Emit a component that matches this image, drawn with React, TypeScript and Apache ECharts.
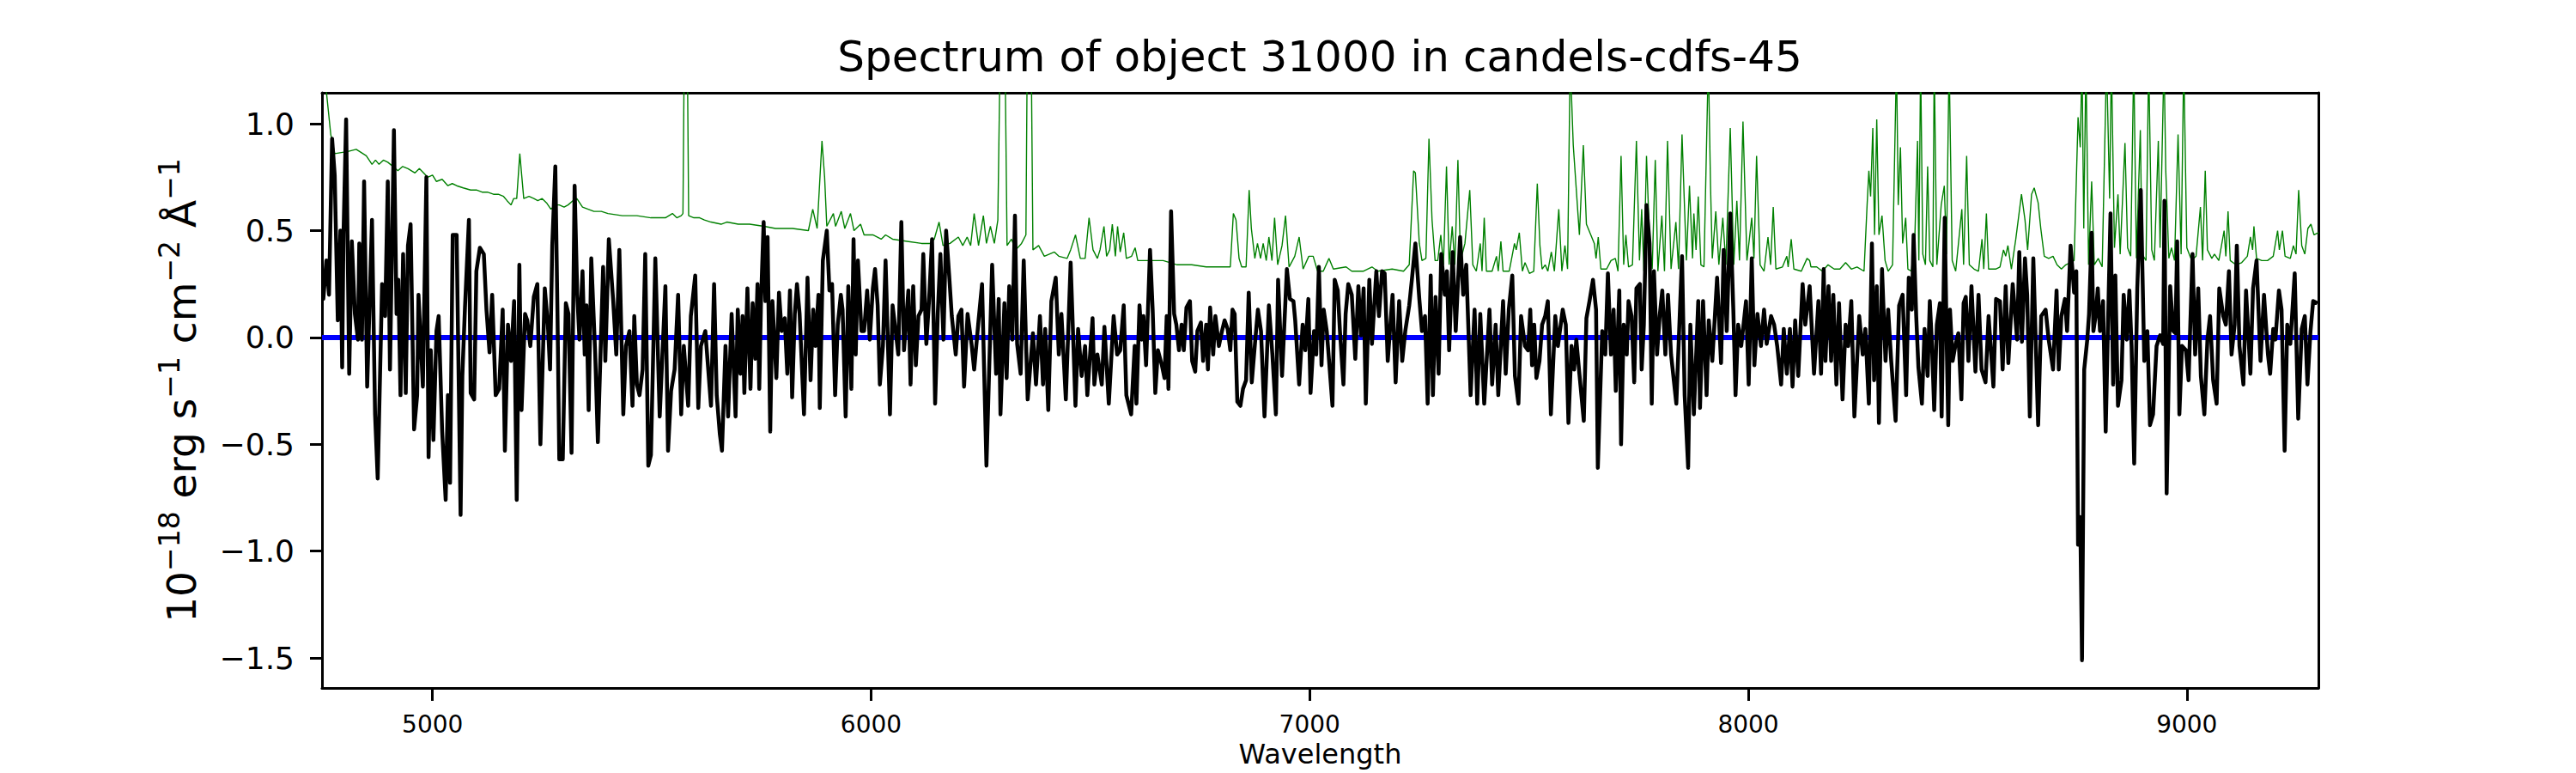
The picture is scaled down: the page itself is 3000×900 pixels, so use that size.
import React, { useEffect, useRef } from "react";
import * as echarts from "echarts";

const titleText = "Spectrum of object 31000 in candels-cdfs-45";
const xName = "Wavelength";
const yName = "10{s|−18} erg s{s|−1} cm{s|−2} Å{s|−1}";
const xTicks = [5000, 6000, 7000, 8000, 9000];
const yTicks = [-1.5, -1.0, -0.5, 0.0, 0.5, 1.0];
const waveMin = 4748;
const waveMax = 9300;
const fluxMin = -1.64;
const fluxMax = 1.145;

// model (blue), flat zero
const modelA = [[4748, 0], [9300, 0]];

// observed flux (black), [wavelength, flux]
const fluxA = [[4748,0.18],[4751,0.18],[4758,0.36],[4764,0.20],[4771,0.93],[4777,0.76],[4784,0.08],[4790,0.50],[4794,-0.14],[4797,0.48],[4803,1.02],[4810,-0.17],[4816,0.45],[4823,0.11],[4830,-0.01],[4833,0.44],[4839,-0.01],[4844,0.73],[4851,-0.23],[4862,0.55],[4869,-0.36],[4875,-0.66],[4885,0.25],[4892,0.10],[4898,0.73],[4903,-0.15],[4912,0.97],[4918,0.11],[4922,0.27],[4927,-0.27],[4933,0.39],[4939,-0.26],[4944,0.43],[4950,0.53],[4958,-0.43],[4965,-0.27],[4968,0.20],[4978,-0.23],[4986,0.75],[4991,-0.56],[4996,-0.06],[5002,-0.48],[5009,0.03],[5014,0.10],[5022,-0.44],[5030,-0.76],[5035,-0.27],[5040,-0.68],[5046,0.48],[5055,0.48],[5064,-0.83],[5068,-0.18],[5074,0.14],[5083,0.55],[5087,-0.26],[5095,-0.29],[5100,0.31],[5108,0.42],[5117,0.39],[5123,0.13],[5130,-0.07],[5136,0.20],[5144,-0.27],[5152,-0.24],[5160,0.13],[5165,-0.53],[5172,0.06],[5179,-0.11],[5186,0.17],[5192,-0.76],[5198,0.34],[5203,-0.34],[5211,0.11],[5216,0.08],[5223,-0.04],[5231,0.19],[5239,0.25],[5246,-0.50],[5256,0.23],[5263,0.06],[5268,-0.15],[5273,0.43],[5280,0.80],[5285,0.10],[5289,-0.57],[5297,-0.57],[5304,0.16],[5310,0.11],[5317,-0.54],[5324,0.71],[5330,0.20],[5335,-0.01],[5342,0.31],[5347,-0.08],[5351,0.15],[5356,-0.34],[5362,0.37],[5371,-0.08],[5377,-0.49],[5389,0.33],[5394,-0.11],[5402,0.46],[5412,0.17],[5419,-0.08],[5426,0.41],[5435,-0.36],[5441,-0.04],[5449,0.03],[5456,-0.32],[5460,0.10],[5466,-0.22],[5472,-0.27],[5479,-0.15],[5485,0.39],[5492,-0.60],[5498,-0.55],[5508,0.37],[5518,-0.37],[5531,0.24],[5537,-0.53],[5544,-0.25],[5552,-0.15],[5560,0.20],[5567,-0.36],[5573,-0.04],[5583,-0.32],[5589,0.10],[5599,0.29],[5606,-0.33],[5612,-0.04],[5622,0.03],[5635,-0.32],[5642,0.25],[5648,-0.27],[5655,-0.45]];

const fluxB = [[5660,-0.53],[5668,-0.04],[5674,-0.37],[5682,0.11],[5691,-0.37],[5696,0.13],[5702,-0.17],[5707,0.10],[5711,-0.26],[5718,0.23],[5725,-0.24],[5730,0.16],[5736,-0.10],[5741,0.25],[5745,-0.24],[5749,0.17],[5755,0.54],[5759,0.17],[5764,0.47],[5770,-0.44],[5775,0.17],[5784,-0.19],[5790,0.21],[5796,0.03],[5803,0.09],[5809,-0.17],[5815,0.22],[5820,-0.28],[5826,0.11],[5831,0.25],[5837,0.11],[5847,-0.36],[5855,0.28],[5862,-0.20],[5868,0.13],[5873,-0.04],[5880,0.20],[5883,-0.33],[5890,0.36],[5899,0.50],[5905,0.22],[5911,0.25],[5918,-0.27],[5924,0.06],[5931,0.20],[5935,0.13],[5942,-0.37],[5948,0.24],[5955,-0.24],[5960,0.46],[5965,-0.08],[5970,0.36],[5978,0.03],[5984,0.03],[5991,0.22],[5997,-0.01],[6004,0.23],[6009,0.32],[6015,0.15],[6020,-0.22],[6027,-0.04],[6033,0.36],[6043,-0.36],[6049,0.15],[6056,0.03],[6062,-0.08],[6069,0.54],[6075,-0.06],[6085,0.22],[6090,-0.22],[6096,0.24],[6102,-0.13],[6108,0.10],[6115,0.13],[6119,0.39],[6126,-0.03],[6132,0.17],[6139,0.46],[6146,-0.31],[6152,0.11],[6158,0.39],[6165,-0.01],[6171,0.50],[6178,0.29],[6184,0.10],[6193,-0.08],[6199,0.10],[6206,0.13],[6212,-0.23],[6220,0.11],[6229,-0.03],[6235,-0.15],[6245,0.08],[6253,0.25],[6263,-0.60],[6276,0.34],[6285,-0.17],[6291,0.18],[6295,-0.36],[6304,0.16],[6309,-0.19],[6315,0.24],[6322,-0.01],[6328,0.57],[6333,-0.03],[6341,-0.17],[6348,0.36],[6357,-0.29],[6369,0.02],[6376,-0.22],[6385,0.10],[6392,-0.22],[6397,0.04],[6404,-0.34],[6411,0.17],[6421,0.28],[6428,-0.08],[6434,0.11],[6444,-0.29],[6455,0.35],[6466,-0.32],[6472,0.04],[6480,-0.18],[6488,-0.04],[6493,-0.27],[6505,0.09],[6509,-0.22],[6516,-0.08],[6526,-0.22],[6532,0.05],[6542,-0.31],[6553,0.10],[6561,-0.08]];

const fluxC = [[6568,-0.06],[6576,0.15],[6582,-0.27],[6593,-0.36],[6601,-0.04],[6605,-0.31],[6612,0.15],[6617,-0.01],[6621,0.10],[6627,-0.13],[6636,0.41],[6642,0.13],[6648,-0.26],[6654,-0.06],[6663,-0.13],[6669,-0.19],[6674,0.10],[6678,-0.24],[6684,0.59],[6691,0.11],[6696,0.06],[6702,-0.06],[6708,0.06],[6713,-0.06],[6719,0.14],[6727,0.17],[6732,-0.11],[6739,-0.16],[6744,0.03],[6752,0.07],[6757,-0.11],[6764,0.06],[6768,-0.15],[6773,0.14],[6780,-0.08],[6785,0.10],[6793,-0.04],[6800,0.03],[6806,0.08],[6813,0.04],[6819,-0.06],[6824,0.13],[6829,0.11],[6835,-0.30],[6842,-0.32],[6848,-0.24],[6855,-0.20],[6861,0.21],[6868,-0.21],[6876,-0.01],[6882,0.13],[6889,0.03],[6897,-0.37],[6907,0.15],[6915,-0.08],[6923,-0.36],[6928,0.27],[6937,-0.18],[6948,0.32],[6955,0.18],[6963,0.17],[6967,0.08],[6976,-0.22],[6984,0.06],[6990,-0.06],[6997,0.18],[7002,-0.26],[7010,0.03],[7015,-0.08],[7021,0.33],[7027,-0.13],[7032,0.13],[7039,0.03],[7045,-0.13],[7052,-0.32],[7057,0.27],[7064,0.22],[7069,0.03],[7077,-0.22],[7082,0.11],[7088,0.25],[7096,0.20],[7104,-0.10],[7111,0.24],[7117,0.01],[7123,0.23],[7128,-0.31],[7136,0.27],[7142,-0.03],[7152,0.31],[7158,0.10],[7165,0.31],[7171,0.30],[7178,-0.11],[7189,0.20],[7196,-0.21],[7204,0.17],[7211,-0.11],[7218,0.03],[7227,0.15],[7233,0.27],[7241,0.44],[7250,0.18],[7256,0.03],[7263,0.10],[7269,-0.31],[7276,0.29],[7281,-0.27],[7287,0.19],[7294,-0.17],[7300,0.39],[7308,0.20],[7313,0.31],[7318,-0.06],[7326,0.40],[7333,0.03],[7343,0.47],[7350,0.20],[7357,0.34],[7367,-0.27],[7376,0.13],[7382,-0.31],[7389,0.11],[7398,-0.31],[7410,0.13],[7416,-0.22],[7424,0.06],[7430,-0.27],[7441,0.17],[7447,-0.17],[7454,0.13],[7462,0.29],[7468,-0.18],[7476,-0.31]];

const fluxD = [[7482,0.10],[7491,-0.04],[7498,-0.06],[7503,0.13],[7507,-0.13],[7512,0.06],[7517,-0.19],[7524,-0.11],[7530,0.06],[7537,0.10],[7543,0.17],[7550,-0.36],[7560,0.10],[7566,-0.04],[7577,0.13],[7584,0.06],[7590,-0.40],[7597,-0.04],[7603,-0.15],[7608,-0.01],[7615,-0.17],[7625,-0.39],[7631,0.09],[7638,0.17],[7646,0.27],[7653,0.13],[7657,-0.61],[7667,0.03],[7674,-0.08],[7680,0.30],[7687,-0.08],[7693,0.13],[7698,-0.25],[7706,0.22],[7710,-0.50],[7716,0.06],[7723,-0.08],[7727,0.17],[7734,0.10],[7740,-0.21],[7745,0.23],[7753,0.25],[7757,-0.15],[7762,0.06],[7768,0.62],[7775,0.44],[7780,-0.31],[7785,0.31],[7792,-0.08],[7798,0.10],[7804,0.22],[7811,-0.08],[7817,0.20],[7824,-0.08],[7836,-0.31],[7849,0.38],[7855,-0.27],[7863,-0.61],[7868,0.06],[7876,-0.36],[7886,0.17],[7890,-0.33],[7897,0.17],[7905,-0.27],[7910,0.08],[7918,-0.11],[7929,0.28],[7938,-0.12],[7944,0.41],[7951,0.03],[7959,0.58],[7966,0.13],[7971,-0.27],[7977,0.06],[7984,-0.04],[7995,0.17],[8001,-0.22],[8008,0.37],[8014,-0.13],[8021,0.11],[8029,-0.04],[8036,0.13],[8042,-0.03],[8052,0.10],[8059,0.06],[8066,-0.04],[8075,-0.22],[8081,0.04],[8088,-0.17],[8095,0.04],[8101,-0.23],[8107,0.08],[8114,-0.18],[8124,0.25],[8130,0.06],[8140,0.24],[8150,-0.17],[8160,0.17],[8166,-0.17],[8172,0.32],[8176,-0.11],[8183,0.24],[8189,-0.11],[8194,0.20],[8201,-0.22],[8207,0.16],[8215,-0.29],[8222,0.06],[8228,-0.04],[8235,0.17],[8242,-0.37],[8253,0.10],[8261,-0.08],[8267,0.04],[8275,-0.31],[8282,0.44],[8287,-0.20],[8293,0.24],[8298,-0.40],[8305,0.32],[8313,-0.11],[8319,0.13],[8326,-0.11],[8336,-0.39],[8344,0.15],[8352,0.20],[8360,-0.27],[8366,0.28],[8373,0.13],[8377,0.48],[8383,0.10]];

const fluxE = [[8388,-0.14],[8396,-0.31],[8402,0.04],[8409,-0.18],[8414,0.17],[8419,-0.04],[8424,-0.34],[8430,0.06],[8437,0.16],[8441,-0.37],[8448,0.56],[8453,-0.08],[8456,-0.41],[8460,0.13],[8466,-0.11],[8473,-0.03],[8479,0.02],[8486,-0.29],[8491,0.16],[8496,0.19],[8502,-0.11],[8509,0.24],[8518,-0.16],[8525,0.20],[8532,-0.15],[8541,-0.21],[8548,0.10],[8559,-0.23],[8565,0.18],[8574,0.17],[8580,-0.15],[8587,0.24],[8593,-0.12],[8603,0.25],[8613,-0.01],[8618,0.40],[8624,-0.02],[8631,0.37],[8636,0.20],[8642,-0.37],[8650,0.37],[8661,-0.41],[8668,0.10],[8678,0.13],[8685,-0.01],[8695,-0.15],[8703,0.22],[8708,-0.15],[8714,0.10],[8722,0.18],[8727,0.03],[8735,0.43],[8743,0.21],[8748,0.31],[8752,-0.97],[8757,-0.84],[8761,-1.51],[8766,-0.15],[8773,-0.01],[8777,0.11],[8783,0.49],[8787,0.03],[8792,0.10],[8797,0.23],[8802,0.03],[8809,0.17],[8815,-0.44],[8822,0.22],[8826,0.58],[8832,-0.22],[8837,0.29],[8843,-0.32],[8851,-0.20],[8856,0.20],[8863,-0.01],[8869,0.22],[8874,-0.04],[8880,-0.59],[8887,0.23],[8895,0.69],[8903,-0.11],[8910,0.03],[8916,-0.41],[8923,-0.36],[8931,-0.04],[8939,0.01],[8946,-0.03],[8949,0.64],[8954,-0.73],[8962,0.24],[8969,0.03],[8974,0.02],[8978,0.45],[8983,-0.36],[8989,-0.04],[8998,-0.06],[9004,-0.20],[9013,0.39],[9019,-0.08],[9026,0.23],[9032,-0.18],[9040,-0.36],[9047,-0.01],[9053,0.10],[9060,-0.20],[9068,-0.31],[9074,0.23],[9083,0.10],[9089,0.06],[9096,0.31],[9102,-0.08],[9109,0.06],[9114,0.43],[9120,-0.04],[9129,-0.22],[9135,0.22],[9145,-0.17],[9151,0.23],[9159,0.36],[9168,-0.11],[9176,0.20],[9185,-0.08],[9190,-0.17],[9197,0.04],[9202,-0.01],[9210,0.22],[9216,0.13],[9223,-0.53],[9229,0.06],[9236,-0.03],[9246,0.30],[9254,-0.38],[9262,0.04],[9269,0.10],[9275,-0.22],[9282,0.03],[9288,0.17],[9298,0.16]];

// noise / sky spectrum (green), [wavelength, flux]
const skyA = [[4748,1.35],[4768,0.95],[4777,0.86],[4807,0.87],[4826,0.88],[4849,0.85],[4862,0.81],[4870,0.83],[4878,0.81],[4888,0.83],[4898,0.82],[4910,0.80],[4921,0.78],[4932,0.80],[4944,0.79],[4960,0.77],[4970,0.79],[4989,0.75],[5000,0.76],[5009,0.73],[5022,0.74],[5035,0.71],[5045,0.72],[5055,0.71],[5070,0.70],[5087,0.69],[5100,0.69],[5113,0.68],[5125,0.68],[5139,0.67],[5150,0.67],[5162,0.66],[5170,0.64],[5179,0.62],[5185,0.65],[5192,0.65],[5199,0.86],[5208,0.65],[5220,0.66],[5231,0.65],[5240,0.64],[5250,0.65],[5260,0.63],[5270,0.60],[5280,0.62],[5289,0.62],[5300,0.61],[5309,0.62],[5320,0.64],[5329,0.65],[5342,0.61],[5355,0.60],[5368,0.59],[5385,0.59],[5400,0.58],[5433,0.57],[5466,0.57],[5498,0.56],[5531,0.56],[5547,0.58],[5557,0.56],[5567,0.57],[5571,0.58],[5575,1.6],[5580,1.6],[5584,0.57],[5596,0.56],[5609,0.56],[5620,0.55],[5635,0.54],[5658,0.53]];

const skyB = [[5671,0.54],[5697,0.53],[5723,0.53],[5756,0.52],[5782,0.51],[5821,0.51],[5857,0.50],[5867,0.60],[5877,0.51],[5888,0.92],[5894,0.75],[5899,0.52],[5914,0.58],[5919,0.52],[5932,0.59],[5940,0.51],[5953,0.58],[5961,0.50],[5976,0.53],[5984,0.48],[6004,0.48],[6023,0.46],[6033,0.48],[6049,0.46],[6082,0.45],[6115,0.44],[6134,0.44],[6144,0.46],[6155,0.54],[6164,0.43],[6180,0.44],[6199,0.47],[6209,0.43],[6219,0.47],[6227,0.43],[6235,0.58],[6245,0.43],[6256,0.57],[6263,0.44],[6272,0.52],[6281,0.44],[6289,0.55],[6296,1.6],[6304,1.6],[6310,0.43],[6320,0.46],[6330,0.41],[6343,0.44],[6353,0.48],[6357,1.6],[6364,1.6],[6369,0.41],[6382,0.43],[6395,0.38],[6418,0.40],[6428,0.38],[6447,0.37],[6455,0.41],[6466,0.48],[6477,0.37],[6488,0.37],[6497,0.56],[6506,0.41],[6516,0.37],[6522,0.41],[6531,0.52],[6537,0.38],[6544,0.41],[6550,0.53],[6557,0.38],[6562,0.52]];

const skyC = [[6568,0.40],[6576,0.49],[6582,0.37],[6594,0.38],[6602,0.42],[6608,0.36],[6633,0.36],[6666,0.36],[6698,0.34],[6731,0.34],[6764,0.33],[6819,0.33],[6826,0.58],[6832,0.55],[6839,0.37],[6845,0.33],[6855,0.33],[6862,0.69],[6867,0.51],[6875,0.37],[6881,0.44],[6888,0.37],[6894,0.44],[6901,0.36],[6907,0.47],[6914,0.36],[6920,0.56],[6927,0.34],[6937,0.43],[6945,0.57],[6953,0.33],[6966,0.38],[6976,0.47],[6985,0.32],[6998,0.38],[7008,0.38],[7018,0.31],[7031,0.31],[7044,0.37],[7054,0.32],[7083,0.33],[7096,0.31],[7122,0.31],[7142,0.33],[7155,0.31],[7188,0.32],[7214,0.31],[7227,0.34],[7237,0.78],[7241,0.77],[7250,0.44],[7256,0.36],[7265,0.37],[7272,0.93],[7279,0.55],[7286,0.36],[7292,0.36],[7299,0.48],[7305,0.34],[7312,0.80],[7318,0.34],[7325,0.52],[7331,0.34],[7338,0.83],[7344,0.36],[7354,0.44],[7365,0.69],[7372,0.34],[7380,0.31],[7389,0.44],[7393,0.31],[7398,0.56],[7403,0.31],[7416,0.31],[7426,0.38],[7430,0.31],[7436,0.45],[7441,0.31],[7455,0.31],[7467,0.44],[7471,0.41],[7478,0.49]];

const skyD = [[7485,0.31],[7491,0.35],[7501,0.30],[7511,0.31],[7519,0.72],[7525,0.43],[7530,0.32],[7537,0.34],[7543,0.31],[7551,0.40],[7558,0.31],[7568,0.60],[7575,0.31],[7582,0.43],[7588,0.32],[7594,1.3],[7601,0.90],[7607,0.72],[7615,0.48],[7624,0.90],[7631,0.53],[7641,0.48],[7649,0.44],[7653,0.37],[7658,0.47],[7664,0.32],[7677,0.32],[7687,0.36],[7697,0.37],[7703,0.31],[7710,0.85],[7716,0.34],[7721,0.48],[7727,0.33],[7736,0.34],[7745,0.92],[7752,0.36],[7757,0.60],[7762,0.31],[7768,0.85],[7775,0.46],[7781,0.32],[7788,0.83],[7794,0.31],[7803,0.57],[7809,0.31],[7816,0.92],[7824,0.32],[7835,0.54],[7841,0.32],[7849,0.95],[7854,0.65],[7859,0.36],[7866,0.71],[7873,0.37],[7876,0.58],[7881,0.41],[7886,0.66],[7892,0.34],[7899,0.33],[7909,1.3],[7914,0.71],[7918,0.37],[7926,0.59],[7933,0.34],[7942,0.56],[7949,0.34],[7959,0.98],[7967,0.34],[7974,0.64],[7980,0.36],[7988,1.01],[7997,0.36],[8008,0.56],[8013,0.37],[8019,0.85],[8027,0.34],[8036,0.31],[8045,0.47],[8051,0.34],[8057,0.61],[8063,0.32],[8078,0.33],[8088,0.38],[8091,0.33],[8098,0.46],[8104,0.32],[8121,0.31],[8134,0.37],[8140,0.36],[8143,0.33],[8156,0.33],[8169,0.31],[8182,0.34],[8196,0.32],[8209,0.32],[8222,0.35],[8235,0.32],[8248,0.33],[8264,0.31],[8271,0.62],[8275,0.78],[8279,0.66],[8284,0.98],[8288,0.48],[8293,1.02],[8298,0.48],[8305,0.57],[8312,0.36],[8319,0.31],[8329,0.34],[8338,1.3],[8342,0.62],[8347,0.89],[8352,0.44],[8359,0.56],[8364,0.32],[8372,0.31],[8380,0.48],[8386,0.92]];

const skyE = [[8389,0.36],[8393,1.3],[8398,0.39],[8404,0.34],[8409,0.80],[8414,0.36],[8421,0.33],[8424,1.3],[8430,0.34],[8440,0.62],[8447,0.71],[8452,0.39],[8458,1.3],[8465,0.36],[8473,0.31],[8487,0.60],[8491,0.34],[8498,0.85],[8504,0.34],[8515,0.32],[8525,0.31],[8533,0.46],[8537,0.32],[8543,0.58],[8548,0.32],[8564,0.32],[8574,0.33],[8582,0.41],[8587,0.38],[8592,0.43],[8600,0.32],[8610,0.46],[8623,0.67],[8631,0.55],[8637,0.41],[8646,0.67],[8652,0.70],[8661,0.63],[8667,0.51],[8675,0.38],[8685,0.37],[8695,0.38],[8704,0.34],[8714,0.32],[8724,0.34],[8734,0.35],[8743,0.36],[8752,1.03],[8757,0.89],[8761,1.3],[8765,0.51],[8770,1.3],[8776,0.34],[8783,0.73],[8789,0.34],[8798,0.37],[8807,0.33],[8817,1.3],[8824,0.65],[8828,1.3],[8835,0.42],[8843,0.67],[8848,0.39],[8859,0.91],[8865,0.42],[8872,0.38],[8879,1.3],[8885,0.37],[8894,0.97],[8898,0.39],[8907,0.36],[8913,1.3],[8920,0.41],[8926,0.36],[8935,0.92],[8939,0.42],[8948,1.3],[8952,0.78],[8959,0.37],[8965,0.42],[8972,0.36],[8980,0.95],[8987,0.39],[8993,1.3],[9000,0.42],[9011,0.36],[9021,0.38],[9031,0.61],[9036,0.36],[9042,0.78],[9047,0.41],[9057,0.37],[9063,0.39],[9073,0.36],[9085,0.50],[9089,0.38],[9094,0.59],[9099,0.36],[9112,0.34],[9125,0.35],[9138,0.38],[9145,0.47],[9150,0.41],[9153,0.52],[9159,0.37],[9171,0.36],[9184,0.36],[9197,0.38],[9207,0.50],[9211,0.41],[9218,0.50],[9224,0.38],[9236,0.37],[9243,0.43],[9249,0.39],[9255,0.69],[9262,0.43],[9269,0.39],[9276,0.51],[9283,0.53],[9290,0.48],[9300,0.49]];

const FONT = "DejaVu Sans";

export default function App() {
  const ref = useRef<HTMLDivElement>(null);
  useEffect(() => {
    document.body.style.margin = "0";
    const chart = echarts.init(ref.current!, null, { renderer: "svg" });
    const flux = [...fluxA, ...fluxB, ...fluxC, ...fluxD, ...fluxE];
    const sky = [...skyA, ...skyB, ...skyC, ...skyD, ...skyE];
    const fmtY = (v: number) => v.toFixed(1).replace("-", "\u2212");
    chart.setOption({
      animation: false,
      backgroundColor: "#ffffff",
      title: {
        text: titleText,
        left: 1537,
        top: 41,
        padding: 0,
        textAlign: "center",
        textStyle: { fontFamily: FONT, fontSize: 50, fontWeight: "normal", color: "#000" },
      },
      grid: { left: 375, right: 300, top: 108, bottom: 99, containLabel: false, outerBoundsMode: "none" },
      xAxis: [
        {
          type: "value",
          min: waveMin,
          max: waveMax,
          position: "bottom",
          name: xName,
          nameLocation: "middle",
          nameGap: 60,
          nameTextStyle: { fontFamily: FONT, fontSize: 32, color: "#000" },
          axisLine: { show: true, onZero: false, lineStyle: { color: "#000", width: 3 } },
          axisTick: { show: true, customValues: xTicks, length: 15, lineStyle: { color: "#000", width: 3 } },
          axisLabel: { show: true, customValues: xTicks, margin: 28, fontFamily: FONT, fontSize: 28, color: "#000", formatter: (v: number) => String(v) },
          splitLine: { show: false },
        },
        {
          type: "value",
          min: waveMin,
          max: waveMax,
          position: "top",
          axisLine: { show: true, onZero: false, lineStyle: { color: "#000", width: 3 } },
          axisTick: { show: false },
          axisLabel: { show: false },
          splitLine: { show: false },
        },
      ],
      yAxis: [
        {
          type: "value",
          min: fluxMin,
          max: fluxMax,
          position: "left",
          name: yName,
          nameLocation: "middle",
          nameGap: 133,
          nameTextStyle: {
            fontFamily: FONT,
            fontSize: 47,
            color: "#000",
            rich: { s: { fontFamily: FONT, fontSize: 33, color: "#000", padding: [0, 0, 28, 0] } },
          },
          axisLine: { show: true, onZero: false, lineStyle: { color: "#000", width: 3 } },
          axisTick: { show: true, customValues: yTicks, length: 14, lineStyle: { color: "#000", width: 3 } },
          axisLabel: { show: true, customValues: yTicks, margin: 32, fontFamily: FONT, fontSize: 36, color: "#000", formatter: fmtY },
          splitLine: { show: false },
        },
        {
          type: "value",
          min: fluxMin,
          max: fluxMax,
          position: "right",
          axisLine: { show: true, onZero: false, lineStyle: { color: "#000", width: 3 } },
          axisTick: { show: false },
          axisLabel: { show: false },
          splitLine: { show: false },
        },
      ],
      series: [
        {
          name: "model",
          type: "line",
          data: modelA,
          showSymbol: false,
          symbol: "none",
          clip: true,
          lineStyle: { color: "#0000ff", width: 6 },
          z: 2,
        },
        {
          name: "noise",
          type: "line",
          data: sky,
          showSymbol: false,
          symbol: "none",
          clip: true,
          lineStyle: { color: "#008000", width: 1.4 },
          z: 3,
        },
        {
          name: "flux",
          type: "line",
          data: flux,
          showSymbol: false,
          symbol: "none",
          clip: true,
          lineStyle: { color: "#000000", width: 4.5, join: "round" },
          z: 4,
        },
      ],
    });
    return () => chart.dispose();
  }, []);
  return <div ref={ref} style={{ width: 3000, height: 900 }} />;
}
